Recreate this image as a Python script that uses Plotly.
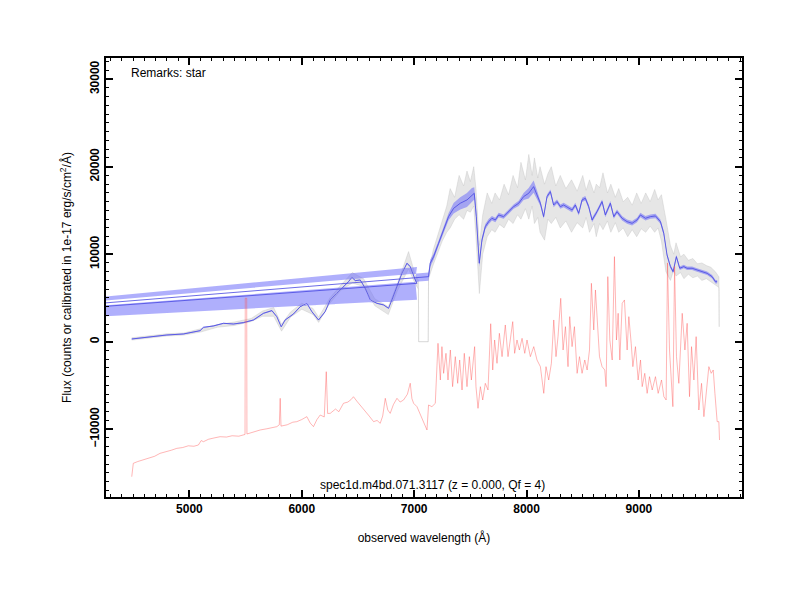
import plotly.graph_objects as go

# smoothed spectrum (blue); the masked gap is stored as a (0, 0) point
blue_wave = [4487, 4650, 4799, 4947, 5095, 5125, 5214, 5303, 5392, 5481, 5570, 5659, 5734, 5778, 5817,
             5852, 5926, 5986, 6045, 6090, 6149, 6208, 6253, 6312, 6372, 6416, 6446, 6476, 6520, 6565,
             6609, 6668, 6728, 6772, 6802, 6847, 6891, 6936, 6965, 7010, 7025,
             0,
             7128, 7143, 7173, 7217, 7262, 7306, 7351, 7410, 7470, 7514, 7535, 7553, 7579, 7603, 7633,
             7663, 7692, 7722, 7752, 7796, 7841, 7885, 7930, 7974, 8019, 8063, 8093, 8123, 8152, 8182,
             8212, 8241, 8271, 8301, 8330, 8375, 8405, 8434, 8464, 8494, 8523, 8553, 8583, 8627, 8672,
             8701, 8746, 8776, 8805, 8850, 8894, 8939, 8983, 9013, 9058, 9102, 9147, 9191, 9221, 9250,
             9280, 9304, 9333, 9363, 9399, 9428, 9473, 9517, 9562, 9607, 9651, 9681, 9696]
blue_flux = [308, 575, 765, 880, 1260, 1640, 1800, 2100, 2020, 2180, 2480, 3240, 3550, 2860, 1700,
             2480, 3170, 4000, 4390, 3430, 2480, 3430, 4770, 5530, 6290, 6860, 7360, 6980, 7050, 6100,
             4770, 4390, 4200, 3810, 4770, 6290, 7810, 8960, 8580, 7050, 6670,
             0,
             7430, 8960, 9720, 11240, 12770, 14290, 15240, 15820, 16200, 16770, 16960, 14290, 8960, 11620, 13150,
             13720, 14100, 13910, 14480, 14290, 14860, 15430, 15820, 16580, 16960, 17720, 16770, 15820, 14290, 16580,
             17150, 15620, 16010, 15430, 15620, 15240, 15050, 15620, 14670, 16200, 16390, 15430, 13910, 14860, 16010,
             14480, 15820, 14290, 14860, 14100, 13720, 13530, 13910, 14480, 14100, 14290, 14370, 13720, 12390, 9910,
             8580, 8000, 9720, 8390, 8580, 8390, 8390, 8200, 8000, 7810, 7430, 6860, 6860]
blue_err = [60, 60, 60, 60, 60, 60, 60, 60, 60, 60, 60, 60, 60, 60, 60,
            60, 60, 60, 60, 60, 60, 60, 60, 60, 60, 60, 60, 60, 60, 60,
            60, 60, 60, 60, 60, 60, 80, 80, 80, 80, 1870,
            0,
            470, 400, 350, 300, 300, 400, 600, 700, 800, 800, 700, 500, 400, 300, 300,
            300, 250, 250, 250, 250, 250, 250, 300, 400, 600, 700, 500, 300, 250, 250,
            250, 250, 250, 250, 250, 250, 250, 250, 250, 250, 250, 250, 250, 250, 250,
            250, 250, 250, 250, 250, 250, 250, 250, 250, 250, 250, 250, 250, 250, 200,
            200, 200, 200, 200, 200, 200, 200, 200, 200, 200, 200, 200, 200]

# raw spectrum (gray), upper and lower envelope of the noise
gray_wave = [4487, 4650, 4800, 4950, 5100, 5250, 5400, 5550, 5650, 5750, 5820, 5900, 6000, 6100, 6150,
             6250, 6350, 6450, 6550, 6650, 6770, 6850, 6950, 7010, 7038, 7040, 7125, 7128, 7170, 7250,
             7290, 7320, 7360, 7400, 7440, 7470, 7500, 7530, 7550, 7580, 7610, 7650, 7690, 7720, 7760,
             7800, 7840, 7880, 7920, 7950, 7990, 8020, 8050, 8070, 8100, 8120, 8160, 8190, 8220, 8260,
             8300, 8350, 8400, 8450, 8500, 8530, 8560, 8600, 8620, 8650, 8680, 8720, 8750, 8790, 8820,
             8860, 8900, 8940, 8980, 9020, 9060, 9100, 9140, 9170, 9200, 9240, 9280, 9310, 9330, 9370,
             9400, 9440, 9480, 9520, 9560, 9600, 9640, 9680, 9700, 9712, 9714]
gray_hi = [450, 700, 900, 1000, 1450, 1950, 2250, 2650, 3500, 3900, 2000, 3400, 4400, 3800, 2800,
           5000, 6500, 7900, 7200, 4900, 4000, 6600, 10300, 7600, 7000, 0, 0, 7900, 10500, 13800,
           15500, 17500, 16500, 19000, 17800, 19500, 18300, 20000, 17500, 11000, 14500, 17000, 15800, 17000, 16200,
           18000, 16800, 19000, 17600, 20500, 18500, 21400, 19000, 21000, 18700, 20000, 18000, 19200, 20000, 17800,
           19000, 17500, 18500, 17200, 19000, 17300, 18500, 17000, 18000, 17600, 19300, 17000, 18000, 16500, 17500,
           16000, 16500, 15600, 17000, 15800, 17000, 16000, 17400, 16200, 16800, 14000, 11000, 10000, 11300, 9700,
           10000, 9300, 9500, 8900, 9000, 8700, 8500, 8000, 7600, 7400, 1700]
gray_lo = [180, 450, 650, 750, 1100, 1650, 1850, 2300, 2900, 2900, 1200, 2800, 3700, 3100, 2200,
           4400, 5900, 6700, 6300, 4100, 3100, 5800, 8300, 6600, 6000, 0, 0, 7200, 8800, 11500,
           12500, 13000, 14000, 14500, 14000, 15000, 14800, 15500, 12000, 5500, 10000, 12000, 12800, 12500, 13400,
           13000, 14000, 13500, 14500, 14000, 15200, 14000, 15500, 13500, 14200, 12500, 11600, 14000, 13500, 14200,
           13000, 13800, 12500, 13600, 13000, 14200, 12500, 13500, 12000, 13500, 12800, 13800, 12500, 13600, 12500,
           13000, 12000, 12800, 12000, 12900, 12500, 13200, 12500, 13000, 11500, 8000, 7000, 8200, 7500, 7900,
           7200, 7700, 7300, 7500, 7000, 7200, 6800, 6500, 6300, 6200, 1700]

# offset spectrum (red)
red_wave = [4487, 4493, 4501, 4540, 4590, 4640, 4690, 4739, 4790, 4840, 4888, 4940, 4990, 5040, 5080,
            5105, 5125, 5170, 5220, 5273, 5330, 5380, 5440, 5481, 5495, 5497, 5510, 5512, 5570, 5630,
            5690, 5740, 5778, 5800, 5808, 5815, 5870, 5920, 5956, 6000, 6045, 6075, 6104, 6135, 6164,
            6200, 6218, 6230, 6253, 6300, 6330, 6371, 6410, 6440, 6460, 6490, 6520, 6560, 6600, 6639,
            6670, 6698, 6720, 6743, 6765, 6787, 6815, 6847, 6875, 6906, 6940, 6965, 6980, 6995, 7025,
            7114, 7128, 7158, 7188, 7212, 7233, 7247, 7262, 7283, 7301, 7322, 7342, 7366, 7387, 7405,
            7426, 7446, 7470, 7491, 7509, 7538, 7550, 7568, 7589, 7610, 7633, 7657, 7681, 7699, 7716,
            7737, 7758, 7782, 7811, 7835, 7856, 7877, 7894, 7915, 7936, 7960, 7984, 8004, 8034, 8064,
            8093, 8123, 8153, 8173, 8197, 8221, 8242, 8262, 8280, 8304, 8325, 8346, 8369, 8384, 8405,
            8426, 8450, 8471, 8494, 8518, 8539, 8560, 8577, 8598, 8613, 8637, 8649, 8672, 8696, 8708,
            8723, 8741, 8762, 8782, 8800, 8815, 8830, 8851, 8871, 8895, 8910, 8931, 8946, 8969, 8993,
            9014, 9029, 9052, 9073, 9094, 9118, 9147, 9171, 9201, 9222, 9242, 9254, 9272, 9290, 9302,
            9317, 9334, 9355, 9385, 9409, 9429, 9450, 9468, 9489, 9509, 9533, 9557, 9578, 9598, 9622,
            9643, 9661, 9676, 9696, 9711, 9717]
red_flux = [-15430, -14300, -13900, -13700, -13520, -13300, -13100, -12760, -12600, -12400, -12190, -12100, -11900, -11950, -11810,
            -11300, -11430, -11150, -11000, -10860, -10900, -10750, -10800, -10660, -10600, 4960, 4960, -10550, -10300, -10090,
            -9950, -9850, -9710, -9500, -6470, -9650, -9500, -9200, -9140, -8900, -8570, -9300, -9710, -8900, -8380,
            -8600, -3430, -8200, -8190, -7700, -8000, -7040, -6900, -6600, -6290, -6800, -7240, -7900, -8500, -9140,
            -9000, -9330, -8500, -6470, -7800, -8190, -7200, -6470, -6900, -6660, -6000, -4750, -6500, -7040, -7430,
            -10090, -7235, -7426, -7045, -188, -4378, -568, -3616, -1330, -4378, -949, -5140, -1711, -4759, -2092,
            -5521, -1330, -5140, -1711, -4378, -568, -5140, -7616, -5140, -6664, -4759, -5521, 2052, -3235, 194,
            -2473, 956, -1711, 1909, -1711, 575, 2290, -1330, 194, -949, 384, -1330, 194, -1711, -568,
            -2092, -2854, -5902, -2854, -4378, -2473, 2480, -1711, 575, 4957, -949, 1718, -2854, 2861, -568,
            1718, -3616, -1711, -3616, -2092, -3235, -949, 6671, 1337, 5909, 194, -1711, -2854, -3235, -5140,
            7433, 194, -2092, 9719, 194, 3242, -2092, 4385, 4766, -949, 2861, -188, -2854, -568, -4378,
            -2092, -5140, -3616, -5902, -3997, -5521, -3997, -5902, -4378, -6283, -6664, 9000, -949, -5902, -7426,
            8600, -1711, -4759, 3242, -949, 2099, -6283, -568, -4378, 575, -7807, -4759, -8569, -5902, -2854,
            -3616, -3235, -5902, -9140, -9140, -11236]

x_ticks = [5000, 6000, 7000, 8000, 9000]
y_ticks = [-10000, 0, 10000, 20000, 30000]

FONT = "Liberation Sans"

band_hi = [f + e for f, e in zip(blue_flux, blue_err)]
band_lo = [f - e for f, e in zip(blue_flux, blue_err)]

fig = go.Figure()

fig.add_trace(go.Scatter(x=gray_wave, y=gray_lo, mode="lines",
                         line={"color": "rgba(175,175,175,0.55)", "width": 0.5}, showlegend=False))
fig.add_trace(go.Scatter(x=gray_wave, y=gray_hi, mode="lines", fill="tonexty",
                         fillcolor="rgba(200,200,200,0.45)",
                         line={"color": "rgba(175,175,175,0.55)", "width": 0.5}, showlegend=False))

fig.add_trace(go.Scatter(x=blue_wave, y=band_lo, mode="lines",
                         line={"width": 0}, showlegend=False))
fig.add_trace(go.Scatter(x=blue_wave, y=band_hi, mode="lines", fill="tonexty",
                         fillcolor="rgba(110,110,250,0.55)",
                         line={"width": 0}, showlegend=False))

fig.add_trace(go.Scatter(x=blue_wave, y=blue_flux, mode="lines",
                         line={"color": "rgb(70,70,225)", "width": 0.8}, showlegend=False))

fig.add_trace(go.Scatter(x=red_wave, y=red_flux, mode="lines",
                         line={"color": "rgba(255,80,80,0.7)", "width": 0.6}, showlegend=False))

axis_style = dict(
    showline=True, linecolor="black", linewidth=1.5, mirror="allticks",
    ticks="inside", ticklen=7, tickwidth=1.5, tickcolor="black",
    showgrid=False, zeroline=False, automargin=False,
    tickfont={"family": FONT, "size": 12, "color": "black", "weight": "bold"},
)

fig.update_xaxes(
    range=[4258, 9917], tickvals=x_ticks, tickformat="d",
    minor={"ticks": "inside", "ticklen": 3, "dtick": 100, "tick0": 0, "tickcolor": "black", "tickwidth": 1},
    title={"text": "observed wavelength (Å)", "font": {"family": FONT, "size": 12, "color": "black"}, "standoff": 18},
    **axis_style,
)
fig.update_yaxes(
    range=[-17750, 32420], tickvals=y_ticks, tickformat="d", tickangle=-90,
    minor={"ticks": "inside", "ticklen": 3, "dtick": 1000, "tick0": 0, "tickcolor": "black", "tickwidth": 1},
    title={"text": "Flux (counts or calibrated in 1e-17 erg/s/cm<sup>2</sup>/Å)",
           "font": {"family": FONT, "size": 12, "color": "black"}, "standoff": 14},
    **axis_style,
)

fig.add_annotation(text="Remarks: star", xref="paper", yref="paper", x=0.036, y=0.966,
                   xanchor="left", yanchor="middle", showarrow=False,
                   font={"family": FONT, "size": 12, "color": "black"})
fig.add_annotation(text="spec1d.m4bd.071.3117 (z = 0.000, Qf = 4)", xref="paper", yref="paper",
                   x=0.513, y=0.027, xanchor="center", yanchor="middle", showarrow=False,
                   font={"family": FONT, "size": 12, "color": "black"})

# the page adds an 8px body margin, so the margins here are shifted by that amount
fig.update_layout(
    width=800, height=600,
    margin={"l": 98, "r": 66, "t": 50, "b": 111},
    paper_bgcolor="white", plot_bgcolor="white",
    showlegend=False,
)

fig.write_html("out.html")
